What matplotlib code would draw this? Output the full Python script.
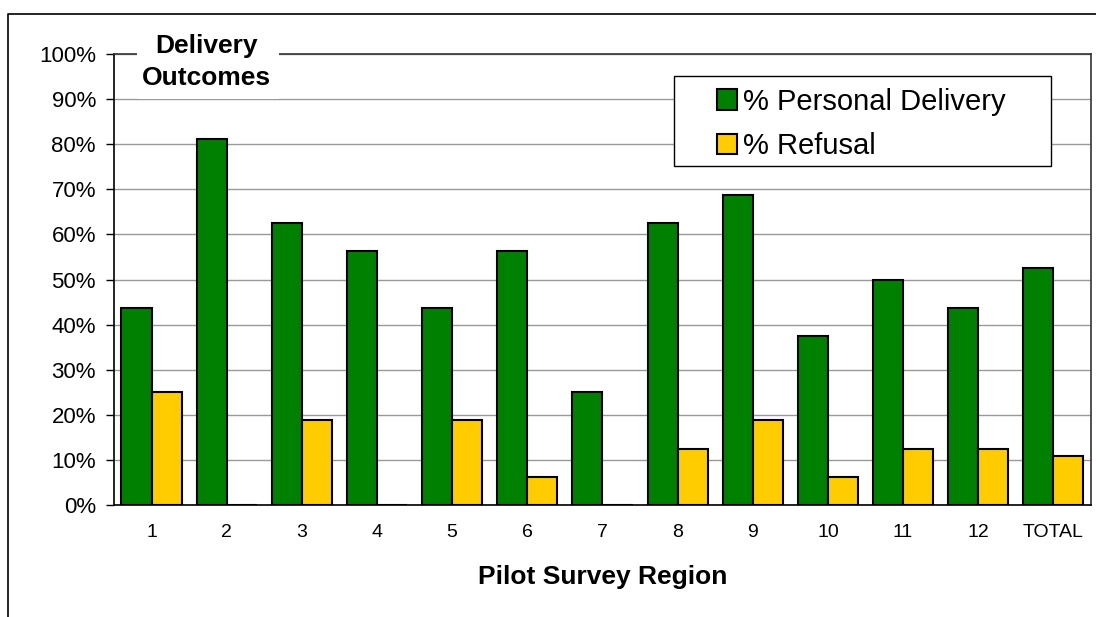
import matplotlib.pyplot as plt
import numpy as np
from matplotlib.lines import Line2D
from matplotlib.patches import Rectangle
from matplotlib.ticker import MultipleLocator, PercentFormatter

plt.rcParams['font.family'] = ['Liberation Sans', 'DejaVu Sans']

regions = ['1', '2', '3', '4', '5', '6', '7', '8', '9', '10', '11', '12', 'TOTAL']
personal_delivery = [43.75, 81.25, 62.5, 56.25, 43.75, 56.25, 25.0, 62.5, 68.75, 37.5, 50.0, 43.75, 52.6]
refusal = [25.0, 0.0, 18.75, 0.0, 18.75, 6.25, 0.0, 12.5, 18.75, 6.25, 12.5, 12.5, 10.94]

green = '#008000'
yellow = '#ffcc00'

fig = plt.figure(figsize=(10.96, 6.17), dpi=100)
ax = fig.add_axes([0.104, 0.1815, 0.8914, 0.731])

x = np.arange(len(regions))
w = 0.4
ax.bar(x - w / 2, personal_delivery, w, color=green, edgecolor='black',
       linewidth=1.5, label='% Personal Delivery', zorder=3)
ax.bar(x + w / 2, refusal, w, color=yellow, edgecolor='black',
       linewidth=1.5, label='% Refusal', zorder=3)

ax.set_xlim(-0.5, len(regions) - 0.5)
ax.set_ylim(0, 100)
ax.yaxis.set_major_locator(MultipleLocator(10))
ax.yaxis.set_major_formatter(PercentFormatter(decimals=0))
ax.set_xticks(x)
ax.set_xticklabels(regions, fontsize=14)
ax.tick_params(axis='x', length=0, pad=14)
ax.tick_params(axis='y', labelsize=16, length=6, width=1, direction='out', pad=7)
ax.grid(axis='y', color='#999999', linewidth=1, zorder=0)
ax.set_axisbelow(True)
for side in ['left', 'bottom', 'top', 'right']:
    ax.spines[side].set_color('black')
    ax.spines[side].set_linewidth(1.2)
ax.spines['top'].set_color('#333333')
ax.spines['right'].set_color('#333333')

ax.set_xlabel('Pilot Survey Region', fontsize=19, fontweight='bold', labelpad=17)

# title sits in a white box over the top gridlines
ax.add_patch(Rectangle((0.0236, 0.90), 0.1454, 0.17, transform=ax.transAxes,
                       facecolor='white', edgecolor='none', zorder=4, clip_on=False))
ax.text(0.095, 0.982, 'Delivery\nOutcomes', transform=ax.transAxes, ha='center',
        va='center', fontsize=19, fontweight='bold', linespacing=1.4, zorder=5)

# legend box drawn separately so the entries can sit with wide side margins
ax.add_patch(Rectangle((0.573, 0.752), 0.386, 0.199, transform=ax.transAxes,
                       facecolor='white', edgecolor='black', linewidth=1, zorder=5))
leg = ax.legend(loc='center left', bbox_to_anchor=(0.617, 0.845), fontsize=21,
                frameon=False, handlelength=0.7, handleheight=0.7, handletextpad=0.2,
                borderpad=0, labelspacing=0.55, borderaxespad=0)
leg.set_zorder(6)

# outer chart frame
fig.add_artist(Line2D([0.0073, 0.0073, 1.0], [0.0, 0.977, 0.977],
                      color='black', linewidth=1.2))

fig.savefig('out.png', dpi=100)
